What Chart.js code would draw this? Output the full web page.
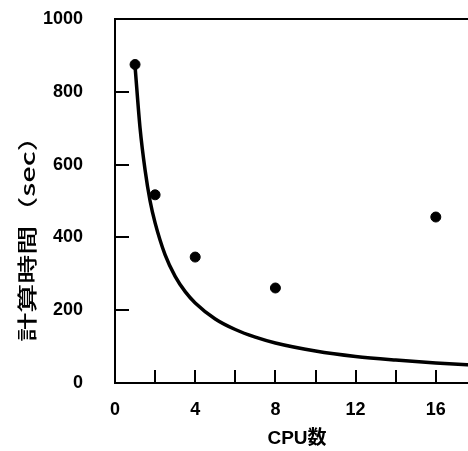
<!DOCTYPE html>
<html>
<head>
<meta charset="utf-8">
<script src="https://cdn.jsdelivr.net/npm/chart.js@4.4.1/dist/chart.umd.min.js"></script>
<style>
    html, body { margin: 0; padding: 0; overflow: hidden; background: #fff; }
    #wrap { width: 540px; height: 451px; }
</style>
</head>
<body>
<div id="wrap"><canvas id="chart" width="540" height="451"></canvas></div>
<script>
// measured run times
const cpuCounts = [1, 2, 4, 8, 16];
const measuredTimes = [875, 517, 346, 261, 456];

// ideal scaling curve
const idealCpu = [1, 1.25, 1.5, 1.75, 2, 2.5, 3, 3.5, 4, 5, 6, 7, 8, 10, 12, 14, 16, 18, 20];
const idealTimes = [870, 700, 585, 500, 440, 352, 293, 251, 220, 176, 147, 126, 110, 88, 73, 63, 55, 49, 44];

const xLabelTicks = [0, 4, 8, 12, 16];
const xMarkTicks = [2, 4, 6, 8, 10, 12, 14, 16, 18];
const yTicks = [0, 200, 400, 600, 800, 1000];
const yMarkTicks = [200, 400, 600, 800];

const xTitle = 'CPU数';
const yTitle = '計算時間（sec）';

const tickFont = { family: "'Liberation Sans', Arial, sans-serif", size: 18, weight: 'bold' };

const frame = {
    id: 'frame',
    afterDraw(chart) {
        const { ctx, chartArea, scales } = chart;
        ctx.save();
        ctx.strokeStyle = '#000';
        ctx.lineWidth = 2;
        ctx.beginPath();
        // top border
        ctx.moveTo(chartArea.left, chartArea.top);
        ctx.lineTo(chartArea.right, chartArea.top);
        // inward ticks
        xMarkTicks.forEach(v => {
            const px = Math.round(scales.x.getPixelForValue(v));
            ctx.moveTo(px, chartArea.bottom);
            ctx.lineTo(px, chartArea.bottom - 13);
        });
        yMarkTicks.forEach(v => {
            const py = Math.round(scales.y.getPixelForValue(v));
            ctx.moveTo(chartArea.left, py);
            ctx.lineTo(chartArea.left + 14, py);
        });
        ctx.stroke();

        // axis titles
        ctx.fillStyle = '#000';
        ctx.textAlign = 'center';
        ctx.textBaseline = 'middle';
        ctx.font = "bold 19px 'Liberation Sans', 'Noto Sans CJK JP', sans-serif";
        ctx.fillText(xTitle, 297, 439);

        ctx.translate(27, 232);
        ctx.rotate(-Math.PI / 2);
        ctx.scale(1.45, 1);
        ctx.font = "500 20px 'Noto Sans CJK JP', sans-serif";
        ctx.fillText(yTitle, 0, 0);
        ctx.restore();
    }
};

new Chart(document.getElementById('chart'), {
    type: 'scatter',
    data: {
        datasets: [
            {
                data: cpuCounts.map((c, i) => ({ x: c, y: measuredTimes[i] })),
                backgroundColor: '#000',
                borderColor: '#000',
                pointRadius: 5,
                pointHoverRadius: 5
            },
            {
                data: idealCpu.map((c, i) => ({ x: c, y: idealTimes[i] })),
                showLine: true,
                borderColor: '#000',
                borderWidth: 3.5,
                pointRadius: 0,
                cubicInterpolationMode: 'monotone'
            }
        ]
    },
    options: {
        responsive: false,
        animation: false,
        layout: { padding: { top: 19, right: 24, left: 0, bottom: 0 } },
        plugins: { legend: { display: false }, tooltip: { enabled: false } },
        scales: {
            x: {
                type: 'linear',
                min: 0,
                max: 20,
                afterFit: s => { s.height = 68; s.paddingLeft = 0; s.paddingRight = 0; },
                afterBuildTicks: s => { s.ticks = xLabelTicks.map(v => ({ value: v })); },
                grid: { display: true, drawOnChartArea: false, drawTicks: false },
                border: { display: true, color: '#000', width: 2 },
                ticks: { color: '#000', font: tickFont, padding: 16, maxRotation: 0, callback: v => String(v) }
            },
            y: {
                min: 0,
                max: 1000,
                afterFit: s => { s.width = 115; s.paddingTop = 0; s.paddingBottom = 0; },
                afterBuildTicks: s => { s.ticks = yTicks.map(v => ({ value: v })); },
                grid: { display: true, drawOnChartArea: false, drawTicks: false },
                border: { display: true, color: '#000', width: 2 },
                ticks: { color: '#000', font: tickFont, padding: 32, callback: v => String(v) }
            }
        }
    },
    plugins: [frame]
});
</script>
</body>
</html>
